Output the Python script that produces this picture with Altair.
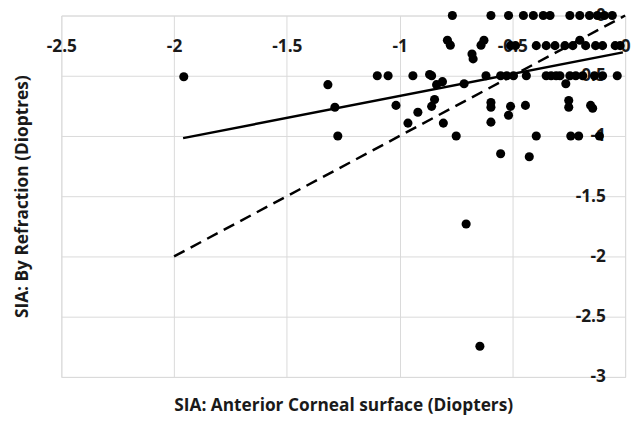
import altair as alt
import pandas as pd

# Scatter points: SIA anterior corneal surface (x) vs SIA by refraction (y)
xs = [
    # y = 0 row
    -0.766, -0.595, -0.517, -0.451, -0.407, -0.363, -0.333, -0.245, -0.201, -0.158, -0.123, -0.092, -0.057,
    # around -0.25
    -0.788, -0.775, -0.626, -0.639, -0.679, -0.674,
    -0.508, -0.486, -0.394, -0.350, -0.311, -0.267, -0.232, -0.201, -0.175, -0.131, -0.100, -0.044, -0.022,
    # around -0.5
    -1.957, -1.099, -1.051, -0.941, -0.867, -0.858, -0.617, -0.552, -0.525, -0.495, -0.438, -0.350, -0.328,
    -0.306, -0.289, -0.245, -0.219, -0.188, -0.136, -0.100, -0.035,
    -1.318, -0.836, -0.810, -0.714, -0.263,
    # around -0.75
    -1.287, -1.016, -0.845, -0.858, -0.919, -0.963, -0.806, -0.595, -0.595, -0.508, -0.517, -0.442,
    -0.250, -0.250, -0.153, -0.144, -0.595,
    # around -1
    -1.274, -0.749, -0.394, -0.241, -0.206, -0.114,
    -0.552, -0.425,
    # outliers
    -0.705, -0.644,
]
ys = [
    0, 0, 0, 0, 0, 0, 0, 0, 0, 0, 0, 0, 0,
    -0.205, -0.246, -0.205, -0.246, -0.320, -0.360,
    -0.250, -0.250, -0.250, -0.250, -0.250, -0.250, -0.250, -0.205, -0.250, -0.250, -0.250, -0.250, -0.250,
    -0.508, -0.500, -0.500, -0.500, -0.490, -0.500, -0.500, -0.500, -0.500, -0.500, -0.500, -0.500, -0.500,
    -0.500, -0.500, -0.500, -0.500, -0.500, -0.500, -0.500, -0.500,
    -0.574, -0.574, -0.549, -0.566, -0.566,
    -0.762, -0.746, -0.697, -0.754, -0.803, -0.893, -0.893, -0.722, -0.762, -0.754, -0.828, -0.746,
    -0.705, -0.762, -0.746, -0.770, -0.885,
    -1.0, -1.0, -1.0, -1.0, -1.0, -1.0,
    -1.148, -1.172,
    -1.730, -2.746,
]

# Linear trendline endpoints
trend_x = [-1.96, -0.01]
trend_y = [-1.018, -0.306]

# Line of equality y = x
ident_x = [-2.0, 0.0]
ident_y = [-2.0, 0.0]

x_ticks = [-2.5, -2.0, -1.5, -1.0, -0.5, 0.0]
y_ticks = [-3.0, -2.5, -2.0, -1.5, -1.0, -0.5, 0.0]

pts = pd.DataFrame({"x": xs, "y": ys})
trend = pd.DataFrame({"x": trend_x, "y": trend_y})
ident = pd.DataFrame({"x": ident_x, "y": ident_y})

FONT = "Open Sans"
GRID = "#d9d9d9"
TXT = "#1a1a1a"

xscale = alt.Scale(domain=[-2.5, 0], nice=False, zero=False)
yscale = alt.Scale(domain=[-3, 0], nice=False, zero=False)

points = alt.Chart(pts).mark_circle(size=85, color="black", opacity=1).encode(
    x=alt.X("x:Q", scale=xscale, axis=alt.Axis(
        orient="bottom", values=x_ticks, grid=True, gridColor=GRID, gridWidth=1,
        labels=False, ticks=False, tickSize=0, domain=False,
        title="SIA: Anterior Corneal surface (Diopters)", titleFont=FONT,
        titleFontSize=17.5, titleFontWeight="bold", titleColor=TXT, titlePadding=20)),
    y=alt.Y("y:Q", scale=yscale, axis=alt.Axis(
        orient="left", values=y_ticks, grid=True, gridColor=GRID, gridWidth=1,
        labels=False, ticks=False, tickSize=0, domain=False,
        title="SIA: By Refraction (Dioptres)", titleFont=FONT,
        titleFontSize=17.5, titleFontWeight="bold", titleColor=TXT, titlePadding=30)),
)

trend_line = alt.Chart(trend).mark_line(color="black", strokeWidth=2.5).encode(
    x=alt.X("x:Q", scale=xscale, axis=alt.Axis(
        orient="top", values=x_ticks, grid=False, ticks=False, tickSize=0, domain=False,
        labelExpr="'' + datum.value", labelFont=FONT, labelFontSize=17.5, labelFontWeight="bold",
        labelColor=TXT, labelBaseline="middle", labelPadding=-31,
        labelFlush=False, labelOverlap=False, labelBound=False, title=None)),
    y=alt.Y("y:Q", scale=yscale, axis=alt.Axis(
        orient="right", values=y_ticks, grid=False, ticks=False, tickSize=0, domain=False,
        labelExpr="'' + datum.value", labelFont=FONT, labelFontSize=17.5, labelFontWeight="bold",
        labelColor=TXT, labelAlign="right", labelBaseline="middle", labelPadding=-20,
        labelFlush=False, labelOverlap=False, labelBound=False, title=None)),
)

ident_line = alt.Chart(ident).mark_line(color="black", strokeWidth=2.5, strokeDash=[12, 7]).encode(
    x=alt.X("x:Q", scale=xscale, axis=None),
    y=alt.Y("y:Q", scale=yscale, axis=None),
)

chart = alt.layer(points, ident_line, trend_line).resolve_axis(
    x="independent", y="independent"
).properties(
    width=571, height=366,
    autosize=alt.AutoSizeParams(type="none"),
    padding={"left": 54, "top": 5, "right": 10, "bottom": 40},
).configure_view(stroke=None).configure(background="white")

chart.save("out.html", embed_options={"renderer": "svg", "actions": False})
